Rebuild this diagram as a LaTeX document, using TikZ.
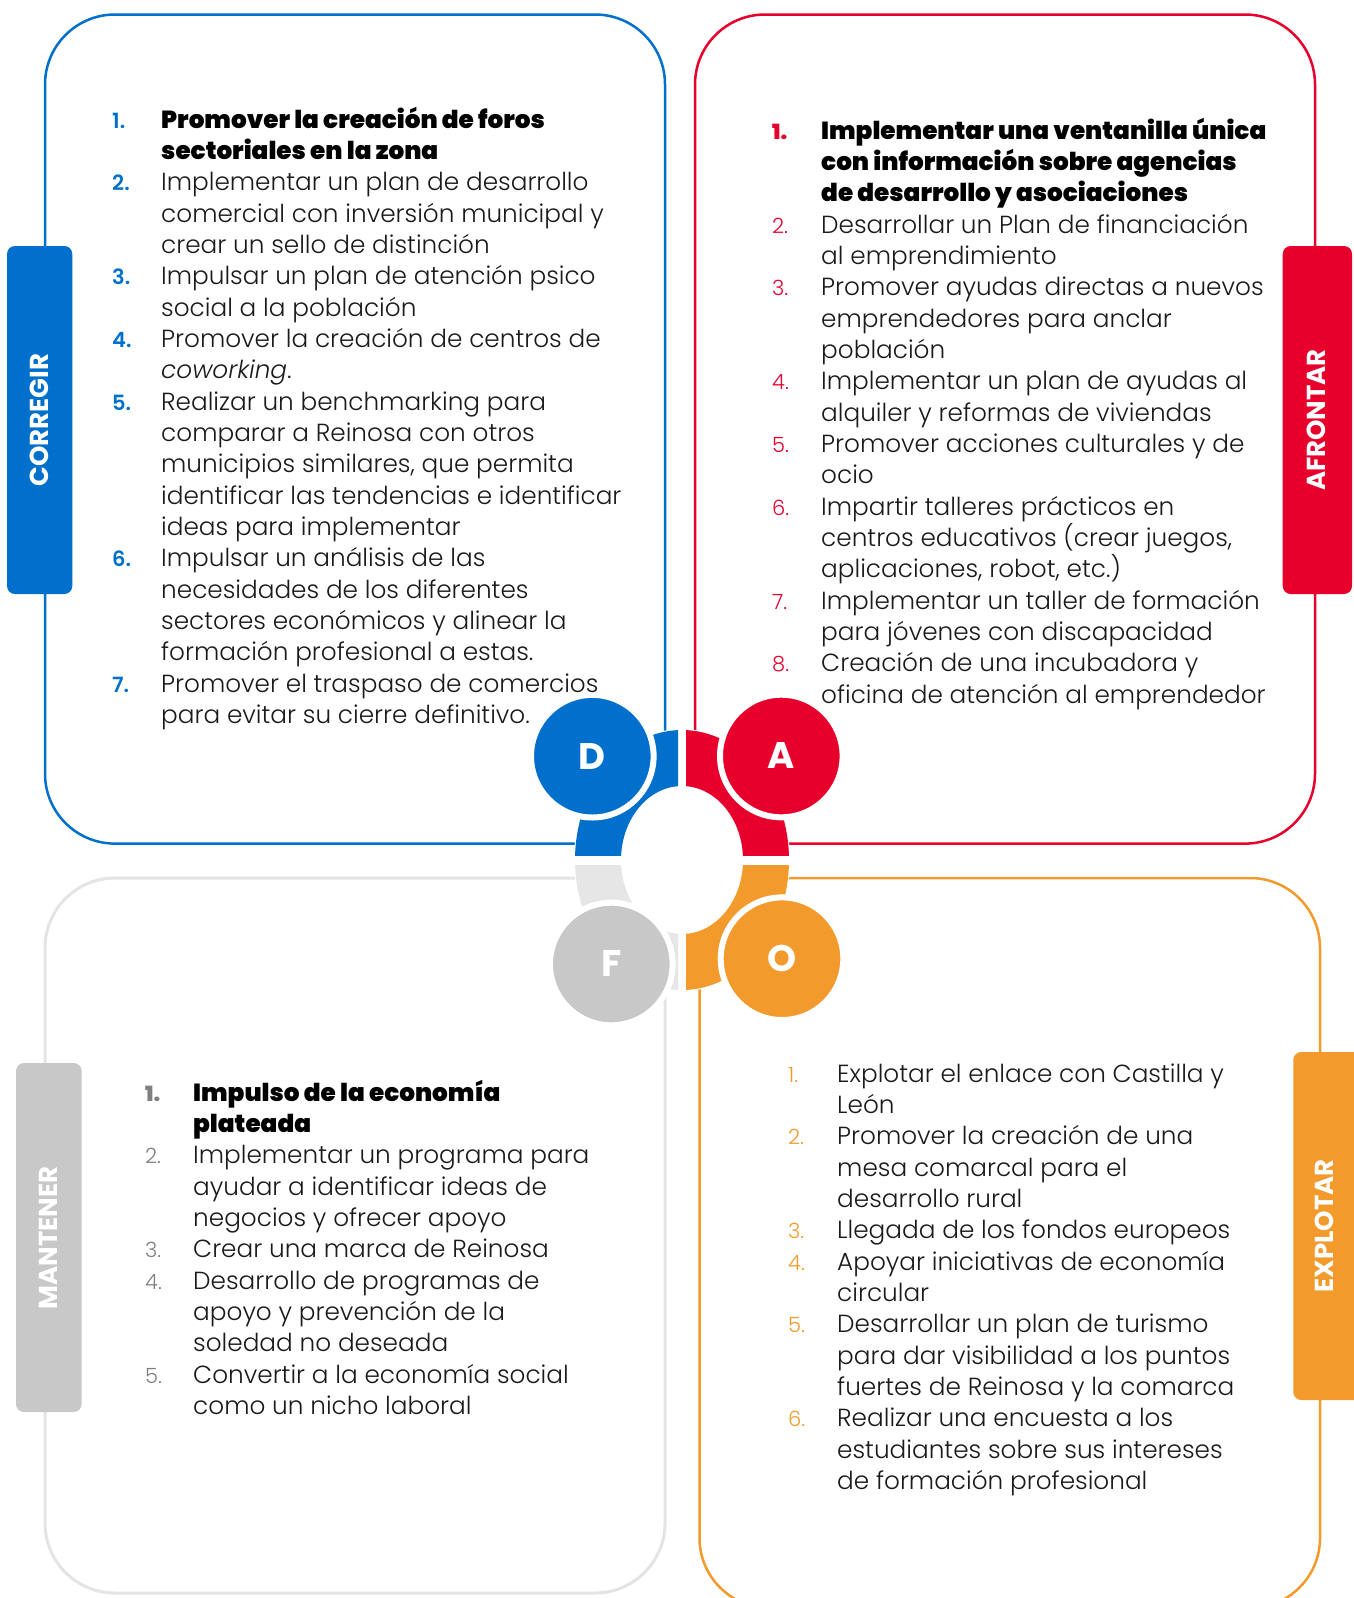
\documentclass[tikz,border=0pt]{standalone}
\usepackage{fontspec}
\setmainfont{Poppins}
\IfFontExistsTF{Poppins Light}{\newfontfamily\lightf{Poppins Light}}{\newfontfamily\lightf{Poppins}}
\IfFontExistsTF{Poppins Light Italic}{\newfontfamily\lightitf{Poppins Light Italic}}{\newcommand\lightitf{\itshape}}
\IfFontExistsTF{Poppins Black}{\newfontfamily\heavyf{Poppins Black}}{\IfFontExistsTF{Poppins ExtraBold}{\newfontfamily\heavyf{Poppins ExtraBold}}{\newcommand\heavyf{\bfseries}}}
\IfFontExistsTF{Poppins SemiBold}{\newfontfamily\semif{Poppins SemiBold}}{\newcommand\semif{\bfseries}}
\newcommand\boldf{\bfseries}
\definecolor{cblue}{RGB}{0,112,204}
\definecolor{cred}{RGB}{232,0,45}
\definecolor{corange}{RGB}{243,154,44}
\definecolor{cgreyc}{RGB}{200,200,200}
\definecolor{cgreyr}{RGB}{230,230,230}
\definecolor{cgreyl}{RGB}{228,228,228}
\definecolor{cgreyn}{RGB}{128,128,128}
\definecolor{ctext}{RGB}{26,26,26}
\def\ls{31.35}
\def\bB{128}
\def\bR{139}
\def\bG{1101}
\def\bO{1082}
\tikzset{
  box/.style={line width=2.5pt, rounded corners=70pt},
  tabbox/.style={rounded corners=8pt},
  tablabel/.style={rotate=90, text=white, inner sep=0pt, font=\boldf\fontsize{26}{26}\selectfont},
  txt/.style={anchor=base west, inner sep=0pt, text=ctext, font=\lightf\fontsize{24.75}{30}\selectfont},
  hv/.style={anchor=base west, inner sep=0pt, text=black, font=\heavyf\fontsize{24.7}{30}\selectfont},
  num/.style={anchor=base west, inner sep=0pt, font=\lightf\fontsize{21}{25}\selectfont},
  snum/.style={anchor=base west, inner sep=0pt, font=\semif\fontsize{21}{25}\selectfont},
  hnum/.style={anchor=base west, inner sep=0pt, font=\heavyf\fontsize{21}{25}\selectfont},
  circ/.style={circle, draw=white, line width=6pt, minimum size=122.6pt, inner sep=0pt, text=white, font=\boldf\fontsize{37}{37}\selectfont},
}
\begin{document}
\begin{tikzpicture}[x=1pt,y=-1pt]
\useasboundingbox (0,0) rectangle (1353,1598);
\fill[white] (0,0) rectangle (1353,1598);
% boxes
\draw[box, cblue] (45,14.5) rectangle (665,843.6);
\draw[box, cred] (695,14.5) rectangle (1315,843.6);
\draw[box, cgreyl, line width=3pt] (45,878) rectangle (665,1593);
\draw[box, corange] (699.5,878) rectangle (1320,1608);
% tabs
\fill[tabbox, cblue] (7,246) rectangle (72.3,594);
\fill[tabbox, cred] (1282.7,246) rectangle (1352,594);
\fill[tabbox, cgreyc] (16,1063) rectangle (81.7,1412);
\fill[tabbox, corange] (1293.3,1052) rectangle (1370,1400);
\node[tablabel] (tD) at (39.5,420) {CORREGIR};
\node[tablabel] (tA) at (1316,420) {AFRONTAR};
\node[tablabel] (tF) at (48.5,1238) {MANTENER};
\node[tablabel] (tO) at (1324,1226) {EXPLOTAR};
% central ring
\fill[white] (682,860) ellipse [x radius=108pt, y radius=131pt];
\begin{scope}
\clip (500,700) rectangle (678,855);
\fill[cblue, even odd rule] (682,860) ellipse [x radius=107pt, y radius=130pt] (682,860) ellipse [x radius=61pt, y radius=74pt];
\end{scope}
\begin{scope}
\clip (686,700) rectangle (860,855);
\fill[cred, even odd rule] (682,860) ellipse [x radius=107pt, y radius=130pt] (682,860) ellipse [x radius=61pt, y radius=74pt];
\end{scope}
\begin{scope}
\clip (500,865) rectangle (678,1020);
\fill[cgreyr, even odd rule] (682,860) ellipse [x radius=107pt, y radius=130pt] (682,860) ellipse [x radius=61pt, y radius=74pt];
\end{scope}
\begin{scope}
\clip (686,865) rectangle (860,1020);
\fill[corange, even odd rule] (682,860) ellipse [x radius=107pt, y radius=130pt] (682,860) ellipse [x radius=61pt, y radius=74pt];
\end{scope}
\node[circ, fill=cblue] (cD) at (592.3,756.2) {D};
\node[circ, fill=cred] (cA) at (781.3,756) {A};
\node[circ, fill=cgreyc] (cF) at (611.3,964) {F};
\node[circ, fill=corange] (cO) at (782,958.7) {O};
% ---------- D column
\node[snum, text=cblue] (dn1) at (112,{\bB+0*\ls}) {1.};
\node[hv] (d1a) at (161,{\bB+0*\ls}) {Promover la creación de foros};
\node[hv] (d1b) at (161,{\bB+1*\ls}) {sectoriales en la zona};
\node[snum, text=cblue] (dn2) at (112,{\bB+2*\ls}) {2.};
\node[txt] (d2a) at (161,{\bB+2*\ls}) {Implementar un plan de desarrollo};
\node[txt] (d2b) at (161,{\bB+3*\ls}) {comercial con inversión municipal y};
\node[txt] (d2c) at (161,{\bB+4*\ls}) {crear un sello de distinción};
\node[snum, text=cblue] (dn3) at (112,{\bB+5*\ls}) {3.};
\node[txt] (d3a) at (161,{\bB+5*\ls}) {Impulsar un plan de atención psico};
\node[txt] (d3b) at (161,{\bB+6*\ls}) {social a la población};
\node[snum, text=cblue] (dn4) at (112,{\bB+7*\ls}) {4.};
\node[txt] (d4a) at (161,{\bB+7*\ls}) {Promover la creación de centros de};
\node[txt] (d4b) at (161,{\bB+8*\ls}) {{\lightitf coworking}.};
\node[snum, text=cblue] (dn5) at (112,{\bB+9*\ls}) {5.};
\node[txt] (d5a) at (161,{\bB+9*\ls}) {Realizar un benchmarking para};
\node[txt] (d5b) at (161,{\bB+10*\ls}) {comparar a Reinosa con otros};
\node[txt] (d5c) at (161,{\bB+11*\ls}) {municipios similares, que permita};
\node[txt] (d5d) at (161,{\bB+12*\ls}) {identificar las tendencias e identificar};
\node[txt] (d5e) at (161,{\bB+13*\ls}) {ideas para implementar};
\node[snum, text=cblue] (dn6) at (112,{\bB+14*\ls}) {6.};
\node[txt] (d6a) at (161,{\bB+14*\ls}) {Impulsar un análisis de las};
\node[txt] (d6b) at (161,{\bB+15*\ls}) {necesidades de los diferentes};
\node[txt] (d6c) at (161,{\bB+16*\ls}) {sectores económicos y alinear la};
\node[txt] (d6d) at (161,{\bB+17*\ls}) {formación profesional a estas.};
\node[snum, text=cblue] (dn7) at (112,{\bB+18*\ls}) {7.};
\node[txt] (d7a) at (161,{\bB+18*\ls}) {Promover el traspaso de comercios};
\node[txt] (d7b) at (161,{\bB+19*\ls}) {para evitar su cierre definitivo.};
% ---------- A column
\node[hnum, text=cred] (an1) at (772,{\bR+0*\ls}) {1.};
\node[hv] (a1a) at (821,{\bR+0*\ls}) {Implementar una ventanilla única};
\node[hv] (a1b) at (821,{\bR+1*\ls}) {con información sobre agencias};
\node[hv] (a1c) at (821,{\bR+2*\ls}) {de desarrollo y asociaciones};
\node[num, text=cred] (an2) at (772,{\bR+3*\ls}) {2.};
\node[txt] (a2a) at (821,{\bR+3*\ls}) {Desarrollar un Plan de financiación};
\node[txt] (a2b) at (821,{\bR+4*\ls}) {al emprendimiento};
\node[num, text=cred] (an3) at (772,{\bR+5*\ls}) {3.};
\node[txt] (a3a) at (821,{\bR+5*\ls}) {Promover ayudas directas a nuevos};
\node[txt] (a3b) at (821,{\bR+6*\ls}) {emprendedores para anclar};
\node[txt] (a3c) at (821,{\bR+7*\ls}) {población};
\node[num, text=cred] (an4) at (772,{\bR+8*\ls}) {4.};
\node[txt] (a4a) at (821,{\bR+8*\ls}) {Implementar un plan de ayudas al};
\node[txt] (a4b) at (821,{\bR+9*\ls}) {alquiler y reformas de viviendas};
\node[num, text=cred] (an5) at (772,{\bR+10*\ls}) {5.};
\node[txt] (a5a) at (821,{\bR+10*\ls}) {Promover acciones culturales y de};
\node[txt] (a5b) at (821,{\bR+11*\ls}) {ocio};
\node[num, text=cred] (an6) at (772,{\bR+12*\ls}) {6.};
\node[txt] (a6a) at (821,{\bR+12*\ls}) {Impartir talleres prácticos en};
\node[txt] (a6b) at (821,{\bR+13*\ls}) {centros educativos (crear juegos,};
\node[txt] (a6c) at (821,{\bR+14*\ls}) {aplicaciones, robot, etc.)};
\node[num, text=cred] (an7) at (772,{\bR+15*\ls}) {7.};
\node[txt] (a7a) at (821,{\bR+15*\ls}) {Implementar un taller de formación};
\node[txt] (a7b) at (821,{\bR+16*\ls}) {para jóvenes con discapacidad};
\node[num, text=cred] (an8) at (772,{\bR+17*\ls}) {8.};
\node[txt] (a8a) at (821,{\bR+17*\ls}) {Creación de una incubadora y};
\node[txt] (a8b) at (821,{\bR+18*\ls}) {oficina de atención al emprendedor};
% ---------- F column
\node[hnum, text=cgreyn] (fn1) at (145,{\bG+0*\ls}) {1.};
\node[hv] (f1a) at (193,{\bG+0*\ls}) {Impulso de la economía};
\node[hv] (f1b) at (193,{\bG+1*\ls}) {plateada};
\node[num, text=cgreyn] (fn2) at (145,{\bG+2*\ls}) {2.};
\node[txt] (f2a) at (193,{\bG+2*\ls}) {Implementar un programa para};
\node[txt] (f2b) at (193,{\bG+3*\ls}) {ayudar a identificar ideas de};
\node[txt] (f2c) at (193,{\bG+4*\ls}) {negocios y ofrecer apoyo};
\node[num, text=cgreyn] (fn3) at (145,{\bG+5*\ls}) {3.};
\node[txt] (f3a) at (193,{\bG+5*\ls}) {Crear una marca de Reinosa};
\node[num, text=cgreyn] (fn4) at (145,{\bG+6*\ls}) {4.};
\node[txt] (f4a) at (193,{\bG+6*\ls}) {Desarrollo de programas de};
\node[txt] (f4b) at (193,{\bG+7*\ls}) {apoyo y prevención de la};
\node[txt] (f4c) at (193,{\bG+8*\ls}) {soledad no deseada};
\node[num, text=cgreyn] (fn5) at (145,{\bG+9*\ls}) {5.};
\node[txt] (f5a) at (193,{\bG+9*\ls}) {Convertir a la economía social};
\node[txt] (f5b) at (193,{\bG+10*\ls}) {como un nicho laboral};
% ---------- O column
\node[num, text=corange] (on1) at (788,{\bO+0*\ls}) {1.};
\node[txt] (o1a) at (837,{\bO+0*\ls}) {Explotar el enlace con Castilla y};
\node[txt] (o1b) at (837,{\bO+1*\ls}) {León};
\node[num, text=corange] (on2) at (788,{\bO+2*\ls}) {2.};
\node[txt] (o2a) at (837,{\bO+2*\ls}) {Promover la creación de una};
\node[txt] (o2b) at (837,{\bO+3*\ls}) {mesa comarcal para el};
\node[txt] (o2c) at (837,{\bO+4*\ls}) {desarrollo rural};
\node[num, text=corange] (on3) at (788,{\bO+5*\ls}) {3.};
\node[txt] (o3a) at (837,{\bO+5*\ls}) {Llegada de los fondos europeos};
\node[num, text=corange] (on4) at (788,{\bO+6*\ls}) {4.};
\node[txt] (o4a) at (837,{\bO+6*\ls}) {Apoyar iniciativas de economía};
\node[txt] (o4b) at (837,{\bO+7*\ls}) {circular};
\node[num, text=corange] (on5) at (788,{\bO+8*\ls}) {5.};
\node[txt] (o5a) at (837,{\bO+8*\ls}) {Desarrollar un plan de turismo};
\node[txt] (o5b) at (837,{\bO+9*\ls}) {para dar visibilidad a los puntos};
\node[txt] (o5c) at (837,{\bO+10*\ls}) {fuertes de Reinosa y la comarca};
\node[num, text=corange] (on6) at (788,{\bO+11*\ls}) {6.};
\node[txt] (o6a) at (837,{\bO+11*\ls}) {Realizar una encuesta a los};
\node[txt] (o6b) at (837,{\bO+12*\ls}) {estudiantes sobre sus intereses};
\node[txt] (o6c) at (837,{\bO+13*\ls}) {de formación profesional};
\end{tikzpicture}
\end{document}
